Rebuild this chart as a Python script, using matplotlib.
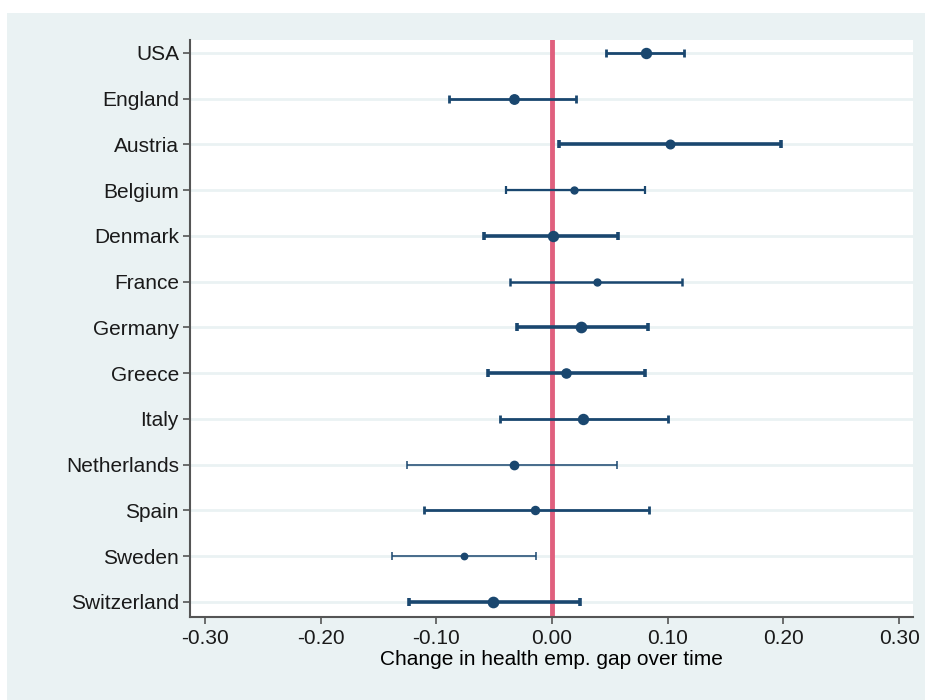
import matplotlib.pyplot as plt
from matplotlib.patches import Rectangle

# coefficient plot: change in health employment gap, by country
countries = ["USA", "England", "Austria", "Belgium", "Denmark", "France", "Germany",
             "Greece", "Italy", "Netherlands", "Spain", "Sweden", "Switzerland"]
estimates = [0.081, -0.033, 0.102, 0.019, 0.001, 0.039, 0.025,
             0.012, 0.027, -0.033, -0.015, -0.076, -0.051]
ci_low = [0.047, -0.089, 0.006, -0.040, -0.059, -0.036, -0.030,
          -0.055, -0.045, -0.125, -0.111, -0.138, -0.124]
ci_high = [0.114, 0.021, 0.198, 0.080, 0.057, 0.112, 0.083,
           0.080, 0.100, 0.056, 0.084, -0.014, 0.024]
x_ticks = [-0.30, -0.20, -0.10, 0.00, 0.10, 0.20, 0.30]

# line width / marker size per country (weights differ in the source)
line_w = [2.0, 2.0, 2.6, 1.6, 2.6, 1.8, 2.6, 2.6, 2.0, 1.1, 2.0, 1.1, 2.6]
mark_s = [7.2, 6.8, 6.2, 5, 7.2, 5, 7.4, 6.6, 7.2, 6, 5.8, 4.6, 7.4]

NAVY = "#1a476f"
RED = "#e0607e"
PANEL = "#eaf2f3"

plt.rcParams["font.family"] = ["Liberation Sans", "DejaVu Sans"]

fig = plt.figure(figsize=(9.25, 7), dpi=100)
fig.patch.set_facecolor("white")
fig.patches.append(Rectangle((7 / 925, 0), 1, 687 / 700, transform=fig.transFigure,
                             facecolor=PANEL, edgecolor="none", zorder=-10))

ax = fig.add_axes([190 / 925, 83 / 700, 723 / 925, 577 / 700])
ax.set_facecolor("white")

ypos = list(range(len(countries)))
for y in ypos:
    ax.axhline(y, color=PANEL, lw=2, zorder=1)

ax.axvline(0, color=RED, lw=3.5, zorder=2)

for i, c in enumerate(countries):
    ax.errorbar(estimates[i], ypos[i],
                xerr=[[estimates[i] - ci_low[i]], [ci_high[i] - estimates[i]]],
                fmt="o", color=NAVY, ms=mark_s[i], elinewidth=line_w[i],
                capsize=3, capthick=line_w[i], zorder=3)

ax.set_yticks(ypos)
ax.set_yticklabels(countries, fontsize=15)
ax.set_ylim(12.33, -0.28)
ax.set_xticks(x_ticks)
ax.set_xticklabels([f"{t:.2f}" for t in x_ticks], fontsize=15)
ax.set_xlim(-0.313, 0.312)
ax.set_xlabel("Change in health emp. gap over time", fontsize=15, labelpad=1)

for s in ["top", "right"]:
    ax.spines[s].set_visible(False)
for s in ["left", "bottom"]:
    ax.spines[s].set_color("#555555")
    ax.spines[s].set_linewidth(1.5)
ax.tick_params(axis="both", colors="#555555", length=5, width=1.2, labelcolor="#1a1a1a")
ax.tick_params(axis="y", pad=3)
ax.tick_params(axis="x", pad=4)

fig.savefig("out.png", dpi=100)
